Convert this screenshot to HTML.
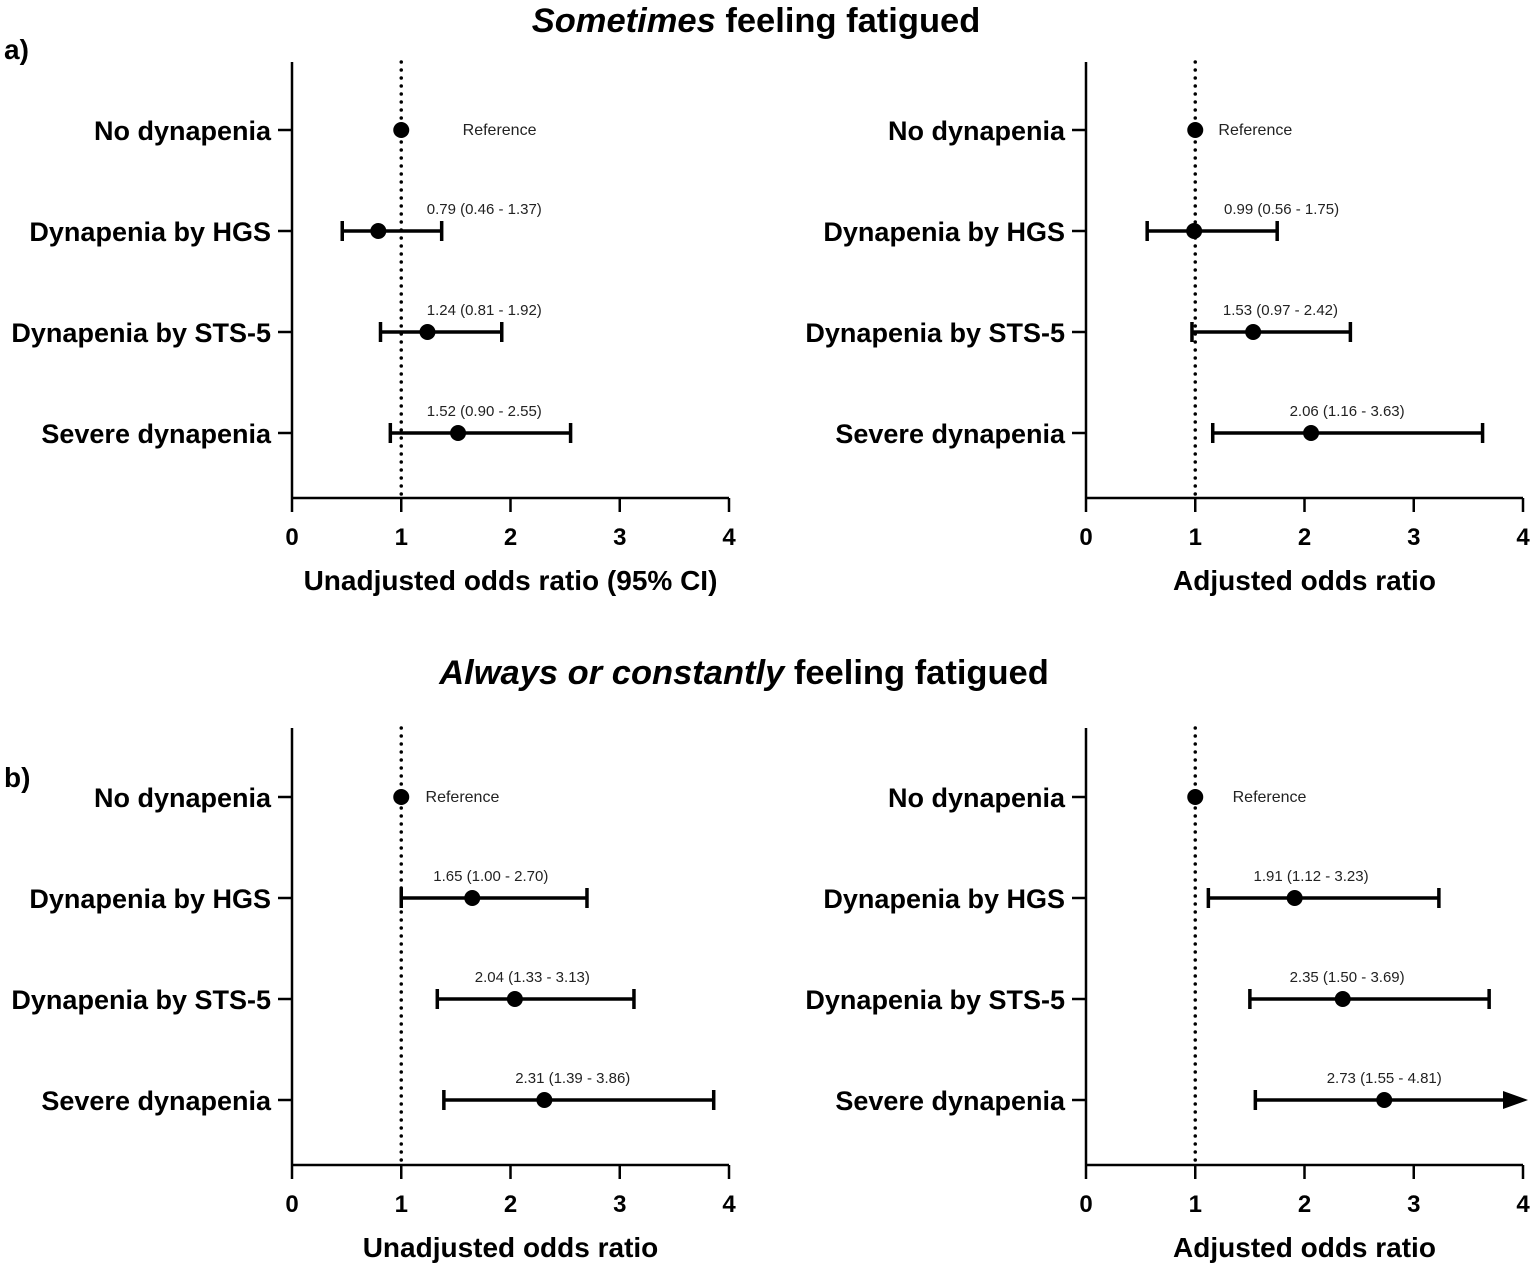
<!DOCTYPE html>
<html><head><meta charset="utf-8"><style>
body{margin:0;background:#fff;}
svg{display:block;font-family:"Liberation Sans",Arial,sans-serif;}
</style></head><body>
<svg id="c" width="1535" height="1267" viewBox="0 0 1535 1267">
<text x="756" y="32" text-anchor="middle" font-size="34.5" font-weight="bold"><tspan font-style="italic">Sometimes</tspan> feeling fatigued</text>
<text x="744" y="684" text-anchor="middle" font-size="34.5" font-weight="bold"><tspan font-style="italic">Always or constantly</tspan> feeling fatigued</text>
<text x="4" y="59" font-size="28" font-weight="bold">a)</text>
<text x="4" y="787" font-size="28" font-weight="bold">b)</text>
</svg>
<script>
const categories=["No dynapenia","Dynapenia by HGS","Dynapenia by STS-5","Severe dynapenia"];
const xTicks=[0,1,2,3,4];
// panel a unadjusted
const aU_or=[1,0.79,1.24,1.52], aU_lo=[null,0.46,0.81,0.90], aU_hi=[null,1.37,1.92,2.55];
const aU_txt=["Reference","0.79 (0.46 - 1.37)","1.24 (0.81 - 1.92)","1.52 (0.90 - 2.55)"];
const aU_lab=[1.90,1.76,1.76,1.76];
// panel a adjusted
const aA_or=[1,0.99,1.53,2.06], aA_lo=[null,0.56,0.97,1.16], aA_hi=[null,1.75,2.42,3.63];
const aA_txt=["Reference","0.99 (0.56 - 1.75)","1.53 (0.97 - 2.42)","2.06 (1.16 - 3.63)"];
const aA_lab=[1.55,1.79,1.78,2.39];
// panel b unadjusted
const bU_or=[1,1.65,2.04,2.31], bU_lo=[null,1.00,1.33,1.39], bU_hi=[null,2.70,3.13,3.86];
const bU_txt=["Reference","1.65 (1.00 - 2.70)","2.04 (1.33 - 3.13)","2.31 (1.39 - 3.86)"];
const bU_lab=[1.56,1.82,2.20,2.57];
// panel b adjusted
const bA_or=[1,1.91,2.35,2.73], bA_lo=[null,1.12,1.50,1.55], bA_hi=[null,3.23,3.69,4.81];
const bA_txt=["Reference","1.91 (1.12 - 3.23)","2.35 (1.50 - 3.69)","2.73 (1.55 - 4.81)"];
const bA_lab=[1.68,2.06,2.39,2.73];

const svg=document.getElementById('c');
const NS="http://www.w3.org/2000/svg";
function mk(t,a,p){const e=document.createElementNS(NS,t);for(const k in a)e.setAttribute(k,a[k]);(p||svg).appendChild(e);return e;}

function panel(id,x0,top,axisY,or,lo,hi,txt,lab,title){
  const g=mk('g',{});
  
  
  const W=437, xmax=4;
  const X=v=>x0+v/xmax*W;
  const rowY=i=>axisY-368+i*101;
  const ya=mk('line',{x1:x0,y1:top,x2:x0,y2:axisY,stroke:'#000','stroke-width':2.5},g);
  
  const xa=mk('line',{x1:x0,y1:axisY,x2:x0+W,y2:axisY,stroke:'#000','stroke-width':2.5},g);
  
  xTicks.forEach(t=>{
    mk('line',{x1:X(t),y1:axisY,x2:X(t),y2:axisY+14,stroke:'#000','stroke-width':2.5},g);
    const tl=mk('text',{x:X(t),y:axisY+47,'text-anchor':'middle','font-size':24,'font-weight':'bold'},g);
    tl.textContent=t;
    
  });
  const at=mk('text',{x:X(2),y:axisY+92,'text-anchor':'middle','font-size':28,'font-weight':'bold'},g);
  at.textContent=title;
  
  const rl=mk('line',{x1:X(1),y1:top,x2:X(1),y2:axisY,stroke:'#000','stroke-width':3.5,'stroke-dasharray':'0 8','stroke-linecap':'round'},g);
  
  categories.forEach((c,i)=>{
    const y=rowY(i);
    mk('line',{x1:x0-14,y1:y,x2:x0,y2:y,stroke:'#000','stroke-width':2.5},g);
    const cl=mk('text',{x:x0-21,y:y+10,'text-anchor':'end','font-size':27,'font-weight':'bold'},g);
    cl.textContent=c;
    
    if(lo[i]!==null){
      const arrow=hi[i]>xmax;
      const xe=arrow?X(xmax)-14:X(hi[i]);
      const ci=mk('line',{x1:X(lo[i]),y1:y,x2:xe,y2:y,stroke:'#000','stroke-width':3.5},g);
      
      mk('line',{x1:X(lo[i]),y1:y-10,x2:X(lo[i]),y2:y+10,stroke:'#000','stroke-width':3.5},g);
      if(arrow){
        const ar=mk('polygon',{points:`${X(xmax)-20},${y-9} ${X(xmax)+5},${y} ${X(xmax)-20},${y+9}`,fill:'#000'},g);
        
      } else mk('line',{x1:X(hi[i]),y1:y-10,x2:X(hi[i]),y2:y+10,stroke:'#000','stroke-width':3.5},g);
    }
    const pt=mk('circle',{cx:X(or[i]),cy:y,r:8,fill:'#000'},g);
    
    const lt=mk('text',{x:X(lab[i]),y:i===0?y+5:y-17,'text-anchor':'middle','font-size':i===0?16:15,fill:'#222'},g);
    lt.textContent=txt[i];
    
  });
}
panel('panel-a-unadjusted',292,62,498,aU_or,aU_lo,aU_hi,aU_txt,aU_lab,'Unadjusted odds ratio (95% CI)');
panel('panel-a-adjusted',1086,62,498,aA_or,aA_lo,aA_hi,aA_txt,aA_lab,'Adjusted odds ratio');
panel('panel-b-unadjusted',292,728,1165,bU_or,bU_lo,bU_hi,bU_txt,bU_lab,'Unadjusted odds ratio');
panel('panel-b-adjusted',1086,728,1165,bA_or,bA_lo,bA_hi,bA_txt,bA_lab,'Adjusted odds ratio');
</script>
</body></html>
